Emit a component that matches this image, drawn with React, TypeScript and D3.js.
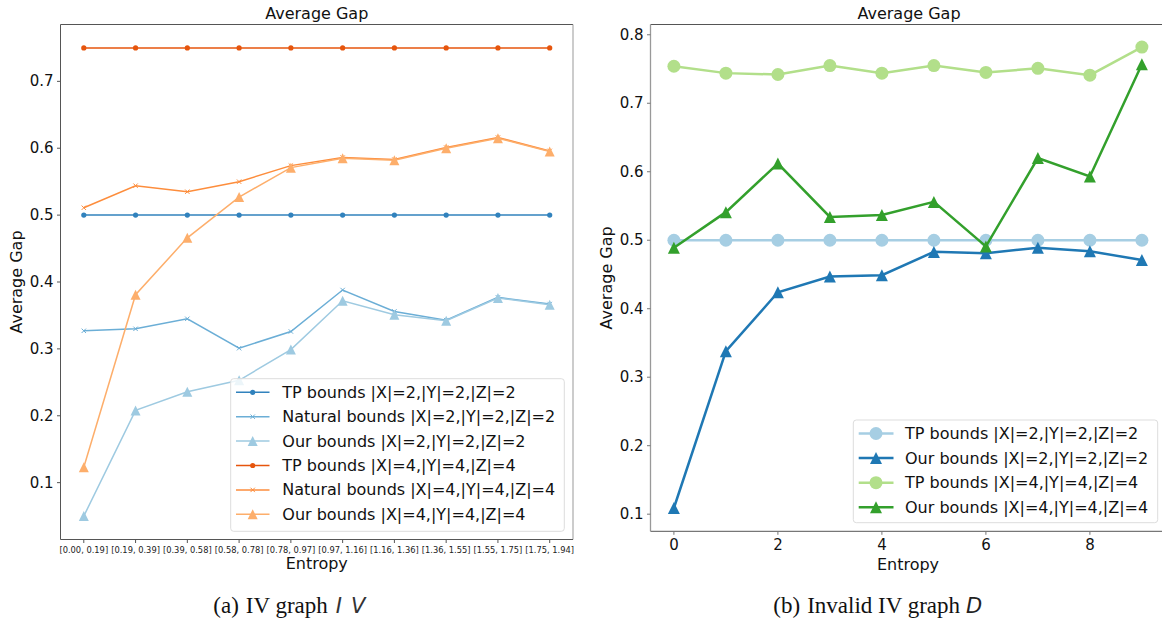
import React from "react";
import * as d3 from "d3";

// ---- left panel: IV graph ----
const entropyBins = [
  "[0.00, 0.19]", "[0.19, 0.39]", "[0.39, 0.58]", "[0.58, 0.78]", "[0.78, 0.97]",
  "[0.97, 1.16]", "[1.16, 1.36]", "[1.36, 1.55]", "[1.55, 1.75]", "[1.75, 1.94]",
];
const tpSmall = [0.5, 0.5, 0.5, 0.5, 0.5, 0.5, 0.5, 0.5, 0.5, 0.5];
const naturalSmall = [0.327, 0.33, 0.345, 0.301, 0.326, 0.388, 0.356, 0.343, 0.377, 0.367];
const oursSmall = [0.05, 0.208, 0.236, 0.253, 0.299, 0.372, 0.351, 0.342, 0.376, 0.366];
const tpLarge = [0.75, 0.75, 0.75, 0.75, 0.75, 0.75, 0.75, 0.75, 0.75, 0.75];
const naturalLarge = [0.511, 0.544, 0.535, 0.55, 0.574, 0.586, 0.583, 0.601, 0.616, 0.596];
const oursLarge = [0.123, 0.381, 0.466, 0.527, 0.571, 0.585, 0.582, 0.6, 0.615, 0.595];
const leftYTicks = [0.1, 0.2, 0.3, 0.4, 0.5, 0.6, 0.7];

// ---- right panel: invalid IV graph ----
const entropySteps = [0, 1, 2, 3, 4, 5, 6, 7, 8, 9];
const tpSmallB = [0.5, 0.5, 0.5, 0.5, 0.5, 0.5, 0.5, 0.5, 0.5, 0.5];
const oursSmallB = [0.109, 0.338, 0.424, 0.447, 0.449, 0.483, 0.481, 0.489, 0.484, 0.471];
const tpLargeB = [0.754, 0.744, 0.742, 0.755, 0.744, 0.755, 0.745, 0.751, 0.741, 0.782];
const oursLargeB = [0.489, 0.541, 0.612, 0.534, 0.537, 0.556, 0.491, 0.62, 0.593, 0.757];
const rightXTicks = [0, 2, 4, 6, 8];
const rightYTicks = [0.1, 0.2, 0.3, 0.4, 0.5, 0.6, 0.7, 0.8];

const FONT = "DejaVu Sans, sans-serif";
const SERIF = "Liberation Serif, serif";

type Shape = "circle" | "x" | "tri";

function Marker({ shape, x, y, size, color }: { shape: Shape; x: number; y: number; size: number; color: string }) {
  if (shape === "circle") return <circle cx={x} cy={y} r={size} fill={color} />;
  if (shape === "x")
    return (
      <path
        d={`M${x - size},${y - size}L${x + size},${y + size}M${x - size},${y + size}L${x + size},${y - size}`}
        stroke={color}
        strokeWidth={1}
      />
    );
  return <path d={`M${x},${y - size}L${x - size},${y + size}L${x + size},${y + size}Z`} fill={color} />;
}

const leftSeries = [
  { label: "TP bounds |X|=2,|Y|=2,|Z|=2", values: tpSmall, color: "#3182bd", shape: "circle" as Shape, size: 2.6 },
  { label: "Natural bounds |X|=2,|Y|=2,|Z|=2", values: naturalSmall, color: "#6baed6", shape: "x" as Shape, size: 2.2 },
  { label: "Our bounds |X|=2,|Y|=2,|Z|=2", values: oursSmall, color: "#9ecae1", shape: "tri" as Shape, size: 5 },
  { label: "TP bounds |X|=4,|Y|=4,|Z|=4", values: tpLarge, color: "#e6550d", shape: "circle" as Shape, size: 2.6 },
  { label: "Natural bounds |X|=4,|Y|=4,|Z|=4", values: naturalLarge, color: "#fd8d3c", shape: "x" as Shape, size: 2.2 },
  { label: "Our bounds |X|=4,|Y|=4,|Z|=4", values: oursLarge, color: "#fdae6b", shape: "tri" as Shape, size: 5 },
];

const rightSeries = [
  { label: "TP bounds |X|=2,|Y|=2,|Z|=2", values: tpSmallB, color: "#a6cee3", shape: "circle" as Shape, size: 6.5 },
  { label: "Our bounds |X|=2,|Y|=2,|Z|=2", values: oursSmallB, color: "#1f78b4", shape: "tri" as Shape, size: 6 },
  { label: "TP bounds |X|=4,|Y|=4,|Z|=4", values: tpLargeB, color: "#b2df8a", shape: "circle" as Shape, size: 6.5 },
  { label: "Our bounds |X|=4,|Y|=4,|Z|=4", values: oursLargeB, color: "#33a02c", shape: "tri" as Shape, size: 6 },
];

function LeftPanel() {
  const L = 60.5, R = 573, T = 24.5, B = 539.5;
  const x = d3.scaleLinear().domain([-0.45, 9.45]).range([L, R]);
  const y = d3.scaleLinear().domain([0.015, 0.785]).range([B, T]);
  const line = d3.line<number>().x((_, i) => x(i)).y((d) => y(d));
  return (
    <g>
      {leftSeries.map((s) => (
        <g key={s.label}>
          <path d={line(s.values) || ""} fill="none" stroke={s.color} strokeWidth={1.5} />
          {s.values.map((v, i) => (
            <Marker key={i} shape={s.shape} x={x(i)} y={y(v)} size={s.size} color={s.color} />
          ))}
        </g>
      ))}
      {/* spines */}
      <path d={`M${L},${T}H${R}`} stroke="#555" />
      <path d={`M${R},${T}V${B}`} stroke="#999" />
      <path d={`M${L},${T}V${B}H${R}`} stroke="#555" fill="none" />
      {leftYTicks.map((t) => (
        <g key={t}>
          <line x1={L - 3.5} x2={L} y1={y(t)} y2={y(t)} stroke="#555" />
          <text x={L - 7} y={y(t)} textAnchor="end" dominantBaseline="central" fontSize={15} fontFamily={FONT} fill="#111">
            {t.toFixed(1)}
          </text>
        </g>
      ))}
      {entropyBins.map((c, i) => (
        <g key={c}>
          <line x1={x(i)} x2={x(i)} y1={B} y2={B + 3.5} stroke="#555" />
          <text x={x(i)} y={B + 10} textAnchor="middle" dominantBaseline="central" fontSize={8.3} fontFamily={FONT} fill="#222">
            {c}
          </text>
        </g>
      ))}
      <text x={(L + R) / 2} y={19} textAnchor="middle" fontSize={16} fontFamily={FONT} fill="#111">Average Gap</text>
      <text x={(L + R) / 2} y={569} textAnchor="middle" fontSize={16} fontFamily={FONT} fill="#111">Entropy</text>
      <text transform={`translate(22,${(T + B) / 2}) rotate(-90)`} textAnchor="middle" fontSize={16} fontFamily={FONT} fill="#111">
        Average Gap
      </text>
      {/* legend */}
      <rect x={230.7} y={378.7} width={333.6} height={152.6} rx={3} fill="white" fillOpacity={0.8} stroke="#ddd" />
      {leftSeries.map((s, i) => {
        const ry = 392.3 + i * 24.4;
        return (
          <g key={s.label}>
            <line x1={236} x2={269.5} y1={ry} y2={ry} stroke={s.color} strokeWidth={1.5} />
            <Marker shape={s.shape} x={252.7} y={ry} size={s.size} color={s.color} />
            <text x={282.3} y={ry} dominantBaseline="central" fontSize={16} fontFamily={FONT} fill="#111">{s.label}</text>
          </g>
        );
      })}
      <text x={213.3} y={613} fontSize={23} fontFamily={SERIF} fill="#111">
        (a)<tspan dx={7}>IV graph</tspan>
        <tspan dx={8} fontFamily={FONT} fontStyle="italic" fontWeight={300} fontSize={21} fill="#333">I</tspan>
        <tspan dx={9} fontFamily={FONT} fontStyle="italic" fontWeight={300} fontSize={21} fill="#333">V</tspan>
      </text>
    </g>
  );
}

function RightPanel() {
  const L = 650.5, R = 1165.3, T = 24.5, B = 531.3;
  const x = d3.scaleLinear().domain([-0.45, 9.45]).range([L, R]);
  const y = d3.scaleLinear().domain([0.075, 0.815]).range([B, T]);
  const line = d3.line<number>().x((_, i) => x(entropySteps[i])).y((d) => y(d));
  return (
    <g>
      {rightSeries.map((s) => (
        <g key={s.label}>
          <path d={line(s.values) || ""} fill="none" stroke={s.color} strokeWidth={2.5} />
          {s.values.map((v, i) => (
            <Marker key={i} shape={s.shape} x={x(entropySteps[i])} y={y(v)} size={s.size} color={s.color} />
          ))}
        </g>
      ))}
      <path d={`M${L},${T}H${R}V${B}`} stroke="#555" fill="none" />
      <path d={`M${L},${T}V${B}`} stroke="#999" strokeWidth={1.3} />
      <path d={`M${L},${B}H${R}`} stroke="#777" strokeWidth={1.3} />
      {rightYTicks.map((t) => (
        <g key={t}>
          <line x1={L - 3.5} x2={L} y1={y(t)} y2={y(t)} stroke="#777" />
          <text x={L - 7} y={y(t)} textAnchor="end" dominantBaseline="central" fontSize={15} fontFamily={FONT} fill="#111">
            {t.toFixed(1)}
          </text>
        </g>
      ))}
      {rightXTicks.map((t) => (
        <g key={t}>
          <line x1={x(t)} x2={x(t)} y1={B} y2={B + 3.5} stroke="#777" />
          <text x={x(t)} y={B + 14} textAnchor="middle" dominantBaseline="central" fontSize={15} fontFamily={FONT} fill="#111">
            {t}
          </text>
        </g>
      ))}
      <text x={909} y={19} textAnchor="middle" fontSize={16} fontFamily={FONT} fill="#111">Average Gap</text>
      <text x={908} y={570} textAnchor="middle" fontSize={16} fontFamily={FONT} fill="#111">Entropy</text>
      <text transform={`translate(612,${(T + B) / 2}) rotate(-90)`} textAnchor="middle" fontSize={16} fontFamily={FONT} fill="#111">
        Average Gap
      </text>
      <rect x={853.3} y={420} width={304.4} height={102.7} rx={3} fill="white" fillOpacity={0.8} stroke="#ddd" />
      {rightSeries.map((s, i) => {
        const ry = 433.5 + i * 24.6;
        return (
          <g key={s.label}>
            <line x1={858.7} x2={893.5} y1={ry} y2={ry} stroke={s.color} strokeWidth={2.5} />
            <Marker shape={s.shape} x={876} y={ry} size={s.size} color={s.color} />
            <text x={905} y={ry} dominantBaseline="central" fontSize={16} fontFamily={FONT} fill="#111">{s.label}</text>
          </g>
        );
      })}
      <text x={773.3} y={613} fontSize={23} fontFamily={SERIF} fill="#111">
        (b)<tspan dx={7}>Invalid IV graph</tspan>
        <tspan dx={6} fontFamily={FONT} fontStyle="italic" fontWeight={300} fontSize={21} fill="#222">D</tspan>
      </text>
    </g>
  );
}

export default function App() {
  return (
    <svg width={1162} height={625} style={{ position: "absolute", left: 0, top: 0, background: "white" }}>
      <rect width={1162} height={625} fill="white" />
      <LeftPanel />
      <RightPanel />
    </svg>
  );
}
